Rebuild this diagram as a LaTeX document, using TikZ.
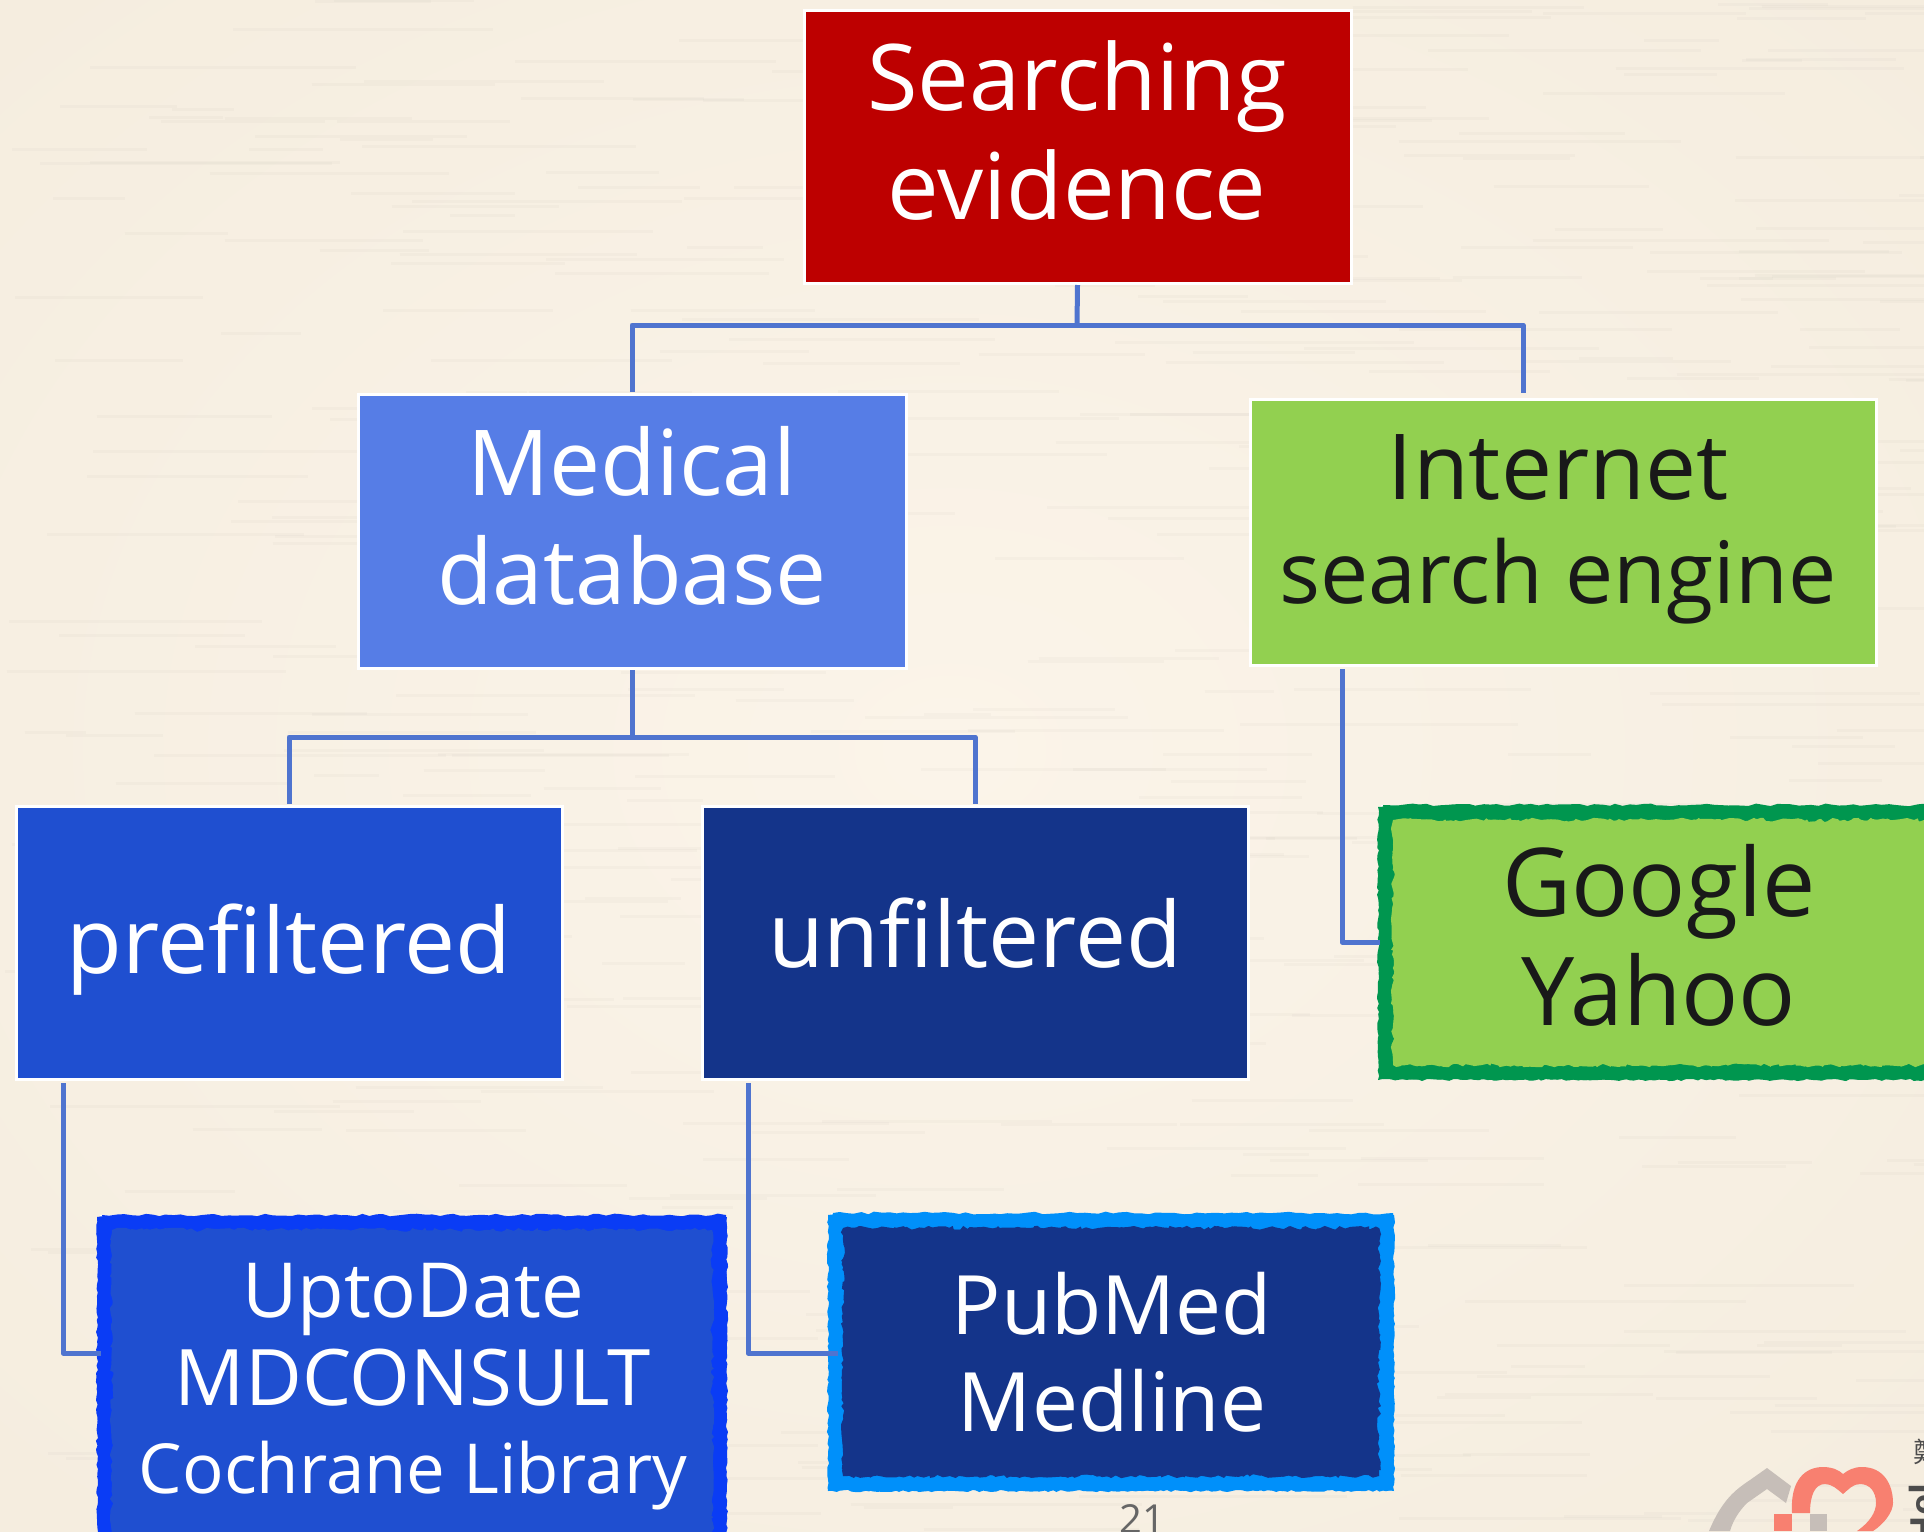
\documentclass[tikz,border=0pt]{standalone}
\usepackage{fontspec}
\setmainfont{Open Sans}
\newfontfamily\cjk{Noto Sans CJK TC}
\usetikzlibrary{decorations.pathmorphing,calc}
\definecolor{bgc}{HTML}{F5EDDF}
\definecolor{bgl}{HTML}{FBF4E9}
\definecolor{link}{HTML}{4F74CF}
\definecolor{cRoot}{HTML}{BD0000}
\definecolor{cMed}{HTML}{567DE6}
\definecolor{cGreen}{HTML}{92D050}
\definecolor{cPre}{HTML}{1F4FD0}
\definecolor{cUn}{HTML}{14348A}
\definecolor{eGreen}{HTML}{00964F}
\definecolor{eBlue}{HTML}{0A3CF5}
\definecolor{eSky}{HTML}{0090FA}
\definecolor{lgray}{HTML}{C6BEB8}
\definecolor{lred}{HTML}{F88070}
\newcommand{\roughrect}[6]{% x1,y1,x2,y2,edge,fill
  \fill[white] (#1+3,#2) rectangle (#1+18,#2+12);
  \fill[#5,decorate,decoration={random steps,segment length=4pt,amplitude=1.1pt}] (#1,#2+2) rectangle (#3,#4);
  \fill[#5,decorate,decoration={random steps,segment length=7pt,amplitude=1.4pt}] (#1+5,#2) rectangle (#3-1,#4-1);
  \fill[#6,decorate,decoration={random steps,segment length=4pt,amplitude=2.2pt}] (#1+15,#2+15) rectangle (#3-15,#4-15);
  \fill[#6,decorate,decoration={random steps,segment length=9pt,amplitude=2.2pt}] (#1+15,#2+15) rectangle (#3-15,#4-15);
}
\tikzset{
  x=1pt,y=-1pt,
  box/.style={inner sep=0pt,outer sep=2pt,draw=white,line width=3pt,text=white,align=center},
  bare/.style={inner sep=0pt,outer sep=0pt,text=white,align=center},
  conn/.style={link,line width=5pt,line join=round}
}
% name, x1,y1,x2,y2, fill
\newcommand{\rectbox}[6]{%
  \node[box,fill=#6,minimum width=#4pt-#2pt,minimum height=#5pt-#3pt] (#1) at ({(#2+#4)/2},{(#3+#5)/2}) {};
}
\newcommand{\fs}[2]{\fontsize{#1}{#2}\selectfont}
\begin{document}
\begin{tikzpicture}
\useasboundingbox (0,0) rectangle (1924,1531);
\shade[inner color=bgl,outer color=bgc] (-400,-300) rectangle (2300,1800);
\pgfmathsetseed{4242}
\foreach \i in {1,...,500}{
  \pgfmathsetmacro{\xx}{rnd*1924}
  \pgfmathsetmacro{\yy}{rnd*1531}
  \pgfmathsetmacro{\ll}{60+rnd*240}
  \draw[black!30!bgc,opacity=.06,line width=3pt] (\xx,\yy) -- ++(\ll,0);
}
% logo
\fill[lgray] (1709,1531) .. controls (1722,1500) and (1735,1490) .. (1750,1480) -- (1767,1468) -- (1791,1486) -- (1786,1503) -- (1767,1489) -- (1747,1503) .. controls (1740,1510) and (1733,1520) .. (1730,1531) -- cycle;
\fill[lred,even odd rule] (1792,1513) .. controls (1790,1480) and (1805,1467) .. (1823,1467) .. controls (1832,1467) and (1839,1470) .. (1843,1474) .. controls (1848,1470) and (1854,1467) .. (1862,1467) .. controls (1884,1467) and (1893,1485) .. (1893,1503) .. controls (1893,1512) and (1884,1524) .. (1873,1531) -- (1857,1531) .. controls (1870,1522) and (1876,1512) .. (1876,1503) .. controls (1876,1492) and (1870,1484) .. (1860,1484) .. controls (1853,1484) and (1849,1489) .. (1843,1494) .. controls (1837,1489) and (1832,1484) .. (1825,1484) .. controls (1815,1484) and (1810,1495) .. (1810,1513) -- cycle;
\fill[lred] (1774,1514) rectangle (1792,1531);
\fill[lgray] (1810,1514) rectangle (1827,1531);
% page number
\node[inner sep=0pt,anchor=base,text=black!60,font=\fs{40}{44}] (pg) at (1142,1533) {21};
% logo lettering
\node[inner sep=0pt,anchor=west,text=black!70,font=\cjk\fs{28}{30}] (lgc) at (1913,1452) {鄭};
\node[inner sep=0pt,rotate=90,anchor=base east,text=black!70,font=\fs{36}{40}\bfseries] (lg) at (1936,1483) {Hel};
% boxes
\rectbox{root}{804}{10}{1351}{283}{cRoot}
\rectbox{med}{358}{394}{906}{668}{cMed}
\rectbox{net}{1250}{399}{1876}{665}{cGreen}
\rectbox{pre}{16}{806}{562}{1079}{cPre}
\rectbox{unf}{702}{806}{1248}{1079}{cUn}
\node[bare,font=\fs{92}{109}] (rootT) at (1077,130) {Searching\\evidence};
\node[bare,font=\fs{91}{109}] (medT) at (632,516) {Medical\\database};
\node[bare,text=black!90,font=\fs{86}{104}] (netT) at (1558,529) {{\fs{91}{104}Internet}\\search engine};
\node[bare,font=\fs{91}{109}] (preT) at (289,950) {prefiltered};
\node[bare,font=\fs{91}{109}] (unfT) at (975,933) {unfiltered};
% rough boxes
\roughrect{1378}{805}{1960}{1080}{eGreen}{cGreen}
\roughrect{97}{1215}{727}{1560}{eBlue}{cPre}
\roughrect{828}{1213}{1394}{1491}{eSky}{cUn}
\node[bare,text=black!90,font=\fs{95}{109}] (goo) at (1659,935) {Google\\Yahoo};
\node[bare,font=\fs{76}{88}] (upt) at (413,1387) {UptoDate\\{\fs{78}{88}MDCONSULT}\\{\fs{69}{88}Cochrane Library}};
\node[bare,font=\fs{82}{97}] (pub) at (1112,1352) {PubMed\\Medline};
\coordinate (gooL) at (1380,942);
\coordinate (uptL) at (101,1353);
\coordinate (pubL) at (838,1353);
% connectors
\coordinate (j1) at (1077,325);
\coordinate (j2) at (632,737);
\coordinate (rr) at (1523,393);
\coordinate (nb) at (1342,669);
\coordinate (pb) at (63,1083);
\coordinate (ub) at (748,1083);
\draw[conn] (root.south) -- (j1);
\draw[conn] (med.north) |- (j1) -| (rr);
\draw[conn] (med.south) -- (j2);
\draw[conn] (pre.north) |- (j2) -| (unf.north);
\draw[conn] (nb) |- (gooL);
\draw[conn] (pb) |- (uptL);
\draw[conn] (ub) |- (pubL);
\end{tikzpicture}
\end{document}
